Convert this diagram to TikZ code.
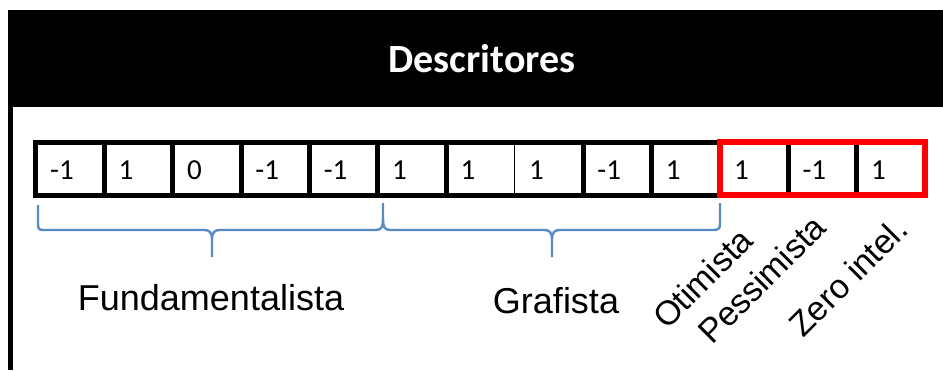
\documentclass[tikz,border=0pt]{standalone}
\usepackage{fontspec}
\setmainfont{Liberation Sans}
\newfontfamily\carlito{Carlito}
\definecolor{braceblue}{HTML}{5A8AC6}
\definecolor{boxred}{HTML}{FF0000}
\begin{document}
\begin{tikzpicture}[x=1pt,y=-1pt,
  cell/.style={minimum width=68.4pt,minimum height=52.5pt,inner sep=0pt,anchor=center},
  numtext/.style={inner sep=0pt,anchor=west,font=\carlito\fontsize{29}{33}\selectfont},
  thickline/.style={line width=5pt},
  bracestyle/.style={draw=braceblue,line width=2.4pt,line join=round},
  lbl/.style={font=\fontsize{36}{43}\selectfont,inner sep=0pt},
  rlbl/.style={font=\fontsize{34}{40}\selectfont,inner sep=0pt,anchor=base west,rotate=45}]
\useasboundingbox (0,0) rectangle (943,370);
% header
\fill[black] (8,10) rectangle (943,107);
\fill[black] (8,106) rectangle (13,370);
\node[font=\carlito\bfseries\fontsize{40}{46}\selectfont,text=white,anchor=base,inner sep=0pt] (title) at (482,72) {Descritores};
% cells
\foreach \v [count=\i from 0] in {-1,1,0,-1,-1,1,1,1,-1,1,1,-1,1}{
  \node[cell] (c\i) at ({36+68.4*\i+34.2},168.75) {};
  \node[numtext] (t\i) at ({36+68.4*\i+14},170) {\v};
}
% black frame
\draw[thickline] (c0.north west) rectangle (c9.south east);
\foreach \i in {1,2,3,4,5,6,8,9}{
  \draw[thickline] (c\i.north west) -- (c\i.south west);
}
\draw[line width=1pt] (c7.north west) -- (c7.south west);
% red block
\draw[thickline] (c11.north west) -- (c11.south west);
\draw[thickline] (c12.north west) -- (c12.south west);
\draw[draw=boxred,line width=6pt] (c10.north west) rectangle (c12.south east);
% braces
\draw[bracestyle] (38,205) -- (38,224) .. controls (38,229) and (39,230) .. (44,230)
  -- (204,230) .. controls (209,230) and (212,232) .. (212,239) -- (212,257);
\draw[bracestyle] (212,239) .. controls (212,232) and (215,230) .. (220,230)
  -- (376,230) .. controls (381,230) and (383,227) .. (383,220) -- (383,203);
\draw[bracestyle] (383,220) .. controls (383,227) and (385,230) .. (390,230)
  -- (544,230) .. controls (549,230) and (552,232) .. (552,239) -- (552,257);
\draw[bracestyle] (552,239) .. controls (552,232) and (555,230) .. (560,230)
  -- (713,230) .. controls (718,230) and (720,229) .. (720,224) -- (720,203);
% labels
\node[lbl,anchor=base] (fund) at (211,310) {Fundamentalista};
\node[lbl,anchor=base] (graf) at (556,313) {Grafista};
\node[rlbl] (oti) at (667,331) {Otimista};
\node[rlbl] (pes) at (712,346) {Pessimista};
\node[rlbl] (zero) at (803,339) {Zero intel.};
\end{tikzpicture}
\end{document}
